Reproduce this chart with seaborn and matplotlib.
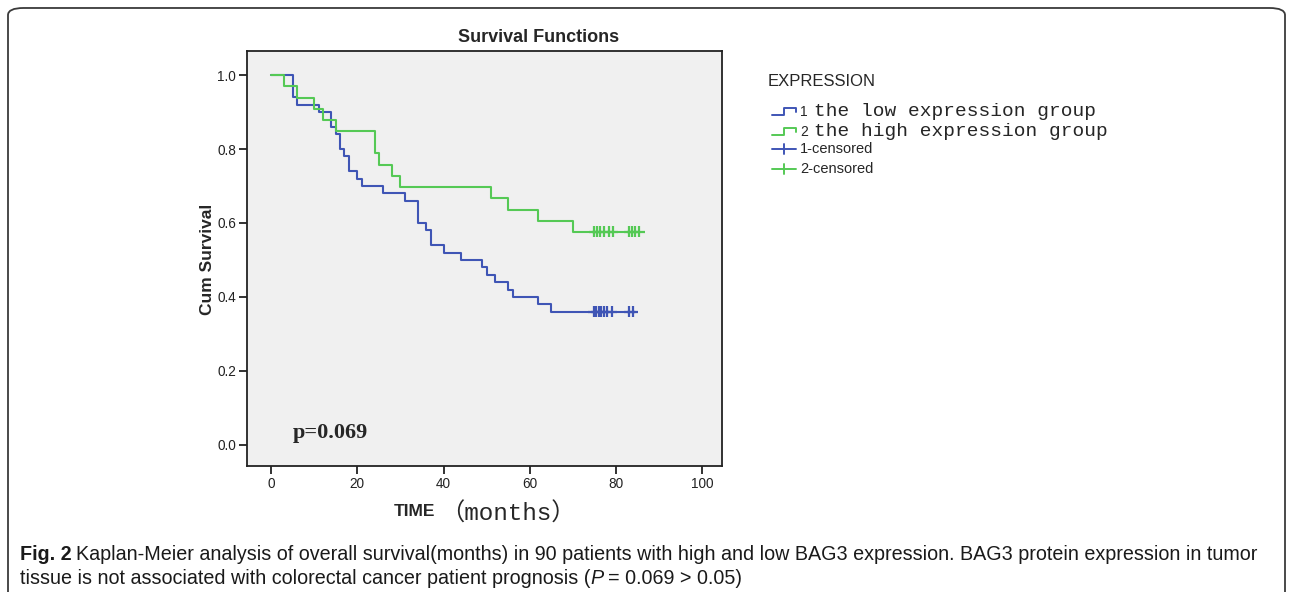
import numpy as np
import pandas as pd
import seaborn as sns
import matplotlib.pyplot as plt
from matplotlib.lines import Line2D
from matplotlib.patches import FancyBboxPatch

# Kaplan-Meier steps (months, cumulative survival)
low_times = [0, 5, 6, 11, 14, 15, 16, 17, 18, 20, 21, 26, 31, 34, 36, 37, 40, 44,
             49, 50, 52, 55, 56, 62, 65, 84.7]
low_surv = [1.0, 0.94, 0.92, 0.90, 0.86, 0.84, 0.80, 0.78, 0.74, 0.72, 0.70, 0.68,
            0.66, 0.60, 0.58, 0.54, 0.52, 0.50, 0.48, 0.46, 0.44, 0.42, 0.40, 0.38,
            0.36, 0.36]
high_times = [0, 3, 6, 10, 12, 15, 24, 25, 28, 30, 51, 55, 62, 70, 85.5]
high_surv = [1.0, 0.970, 0.939, 0.909, 0.879, 0.848, 0.788, 0.758, 0.727, 0.697,
             0.667, 0.636, 0.606, 0.576, 0.576]

# censored observations (months)
low_cens = [74.8, 75.4, 76.0, 76.6, 77.2, 78.0, 79.1, 83.1, 83.9]
high_cens = [75.0, 75.6, 76.2, 77.3, 78.3, 79.2, 83.1, 83.7, 84.3, 85.4]

groups = ['1', '2']
blue = '#3f55b5'
green = '#55c955'
x_ticks = [0, 20, 40, 60, 80, 100]
y_ticks = [0.0, 0.2, 0.4, 0.6, 0.8, 1.0]


def surv_at(times, surv, t):
    i = np.searchsorted(times, t, side='right') - 1
    return surv[i]


curves = pd.concat([
    pd.DataFrame({'time': low_times, 'surv': low_surv, 'group': groups[0]}),
    pd.DataFrame({'time': high_times, 'surv': high_surv, 'group': groups[1]}),
])
cens = pd.concat([
    pd.DataFrame({'time': low_cens,
                  'surv': [surv_at(low_times, low_surv, t) for t in low_cens],
                  'group': groups[0]}),
    pd.DataFrame({'time': high_cens,
                  'surv': [surv_at(high_times, high_surv, t) for t in high_cens],
                  'group': groups[1]}),
])

sns.set_theme(style='ticks')
plt.rcParams['font.family'] = ['Liberation Sans', 'DejaVu Sans']

W, H = 1292, 592
fig = plt.figure(figsize=(W / 100, H / 100), dpi=100)
ax = fig.add_axes([247 / W, 1 - 466 / H, (722 - 247) / W, (466 - 51) / H])
ax.set_facecolor('#f0f0f0')

sns.lineplot(data=curves, x='time', y='surv', hue='group', palette=[blue, green],
             estimator=None, sort=False, drawstyle='steps-post', lw=1.5,
             legend=False, ax=ax)
sns.scatterplot(data=cens, x='time', y='surv', hue='group', palette=[blue, green],
                marker='+', s=60, linewidth=1.6, legend=False, ax=ax)

ax.set_xlim(-5.6, 104.6)
ax.set_ylim(-0.057, 1.065)
ax.set_xticks(x_ticks)
ax.set_yticks(y_ticks)
ax.set_yticklabels([f'{v:.1f}' for v in y_ticks])
ax.set_xlabel('')
ax.set_ylabel('')
for s in ax.spines.values():
    s.set_color('#222222')
    s.set_linewidth(1.3)
ax.tick_params(direction='out', length=6, width=1.3, labelsize=9.8,
               color='#222222', labelcolor='#222222', pad=2)

ax.text(5, 0.032, 'p=0.069', family='Liberation Serif', fontweight='bold',
        fontsize=16, va='center', ha='left')

# titles and axis labels
fig.text(539 / W, 1 - 38 / H, 'Survival Functions', fontweight='bold',
         fontsize=13, ha='center', va='center')
fig.text(207 / W, 1 - 259 / H, 'Cum Survival', fontweight='bold', fontsize=12.5,
         rotation=90, ha='center', va='center')
fig.text(394 / W, 1 - 512 / H, 'TIME', fontweight='bold', fontsize=12.5,
         ha='left', va='center')
fig.text(440 / W, 1 - 514 / H, '（months）', family=['Liberation Mono', 'Noto Sans CJK SC'],
         fontsize=17.5, ha='left', va='center')

# legend
fig.text(768 / W, 1 - 82 / H, 'EXPRESSION', fontsize=12, ha='left', va='center')
mono = ['Liberation Mono', 'DejaVu Sans Mono']
rows = [(111, blue, '1', 'the low expression group'),
        (131, green, '2', 'the high expression group')]
for y, c, num, lab in rows:
    xs = np.array([772, 784, 784, 796, 796]) / W
    ys = 1 - np.array([y + 4, y + 4, y - 3, y - 3, y + 1]) / H
    fig.add_artist(Line2D(xs, ys, color=c, lw=1.4, transform=fig.transFigure))
    fig.text(800 / W, 1 - (y + 1.5) / H, num, fontsize=10, ha='left', va='center')
    fig.text(814 / W, 1 - y / H, lab, family=mono, fontsize=14, ha='left', va='center')
for y, c, lab in [(149, blue, '1-censored'), (169, green, '2-censored')]:
    fig.add_artist(Line2D([772 / W, 796 / W], [1 - y / H] * 2, color=c, lw=1.4,
                          transform=fig.transFigure))
    fig.add_artist(Line2D([784 / W, 784 / W], [1 - (y - 5) / H, 1 - (y + 5) / H],
                          color=c, lw=1.4, transform=fig.transFigure))
    fig.text(800 / W, 1 - y / H, lab, fontsize=10.5, ha='left', va='center')

# caption
r = fig.canvas.get_renderer()


def put_pieces(x, y, pieces):
    for txt, kw, gap in pieces:
        t = fig.text(x / W, 1 - y / H, txt, va='center', ha='left',
                     fontsize=14.25, color='#1a1a1a', **kw)
        x += t.get_window_extent(renderer=r).width + gap


put_pieces(20, 554, [
    ('Fig. 2', {'fontweight': 'bold'}, 4),
    ('Kaplan-Meier analysis of overall survival(months) in 90 patients with high '
     'and low BAG3 expression. BAG3 protein expression in tumor', {}, 0),
])
put_pieces(20, 578, [
    ('tissue is not associated with colorectal cancer patient prognosis (', {}, 0),
    ('P', {'fontstyle': 'italic'}, 4),
    ('= 0.069 > 0.05)', {}, 0),
])

fig.add_artist(FancyBboxPatch((8 / W, -0.05), (1285 - 8) / W, 1.0365,
                              boxstyle='round,pad=0,rounding_size=0.012',
                              transform=fig.transFigure, fill=False,
                              ec='#3a3a3a', lw=1.3))

fig.savefig('out.png', dpi=100)
